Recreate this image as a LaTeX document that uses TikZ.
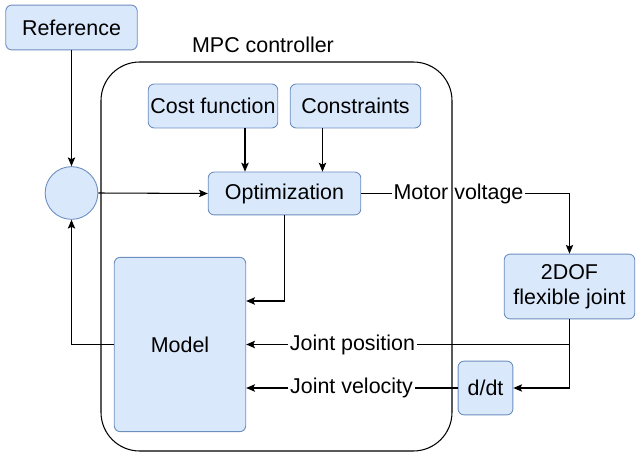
\documentclass[tikz,border=0pt]{standalone}
\usepackage{fontspec}
\setmainfont{Liberation Sans}
\usetikzlibrary{arrows.meta}
\definecolor{boxfill}{HTML}{DAE8FC}
\definecolor{boxline}{HTML}{6C8EBF}
\tikzset{
  block/.style={draw=boxline,fill=boxfill,rounded corners=3.4pt,line width=0.5pt,
    align=center,inner sep=1pt,font=\fontsize{12.2}{14}\selectfont},
  lbl/.style={fill=white,inner sep=0.8pt,font=\fontsize{12.2}{14}\selectfont},
  arr/.style={-{Stealth[length=5pt,width=4.2pt,inset=1pt]},line width=0.6pt},
  wire/.style={line width=0.6pt}
}
\begin{document}
\begin{tikzpicture}[x=2mm,y=-2mm]
        \useasboundingbox(0,0)rectangle(63.6,45.2);

        % blocks
        \node[block,minimum width=74.8pt,minimum height=25.5pt](ref)at(7.15,2.75){Reference};
        \node[block,circle,minimum size=30pt,inner sep=0pt](sum)at(7.15,19.3){};
        \node[block,minimum width=73.7pt,minimum height=25pt](cost)at(21.3,10.6){Cost function};
        \node[block,minimum width=74.3pt,minimum height=25pt](cons)at(35.55,10.6){Constraints};
        \node[block,minimum width=86.8pt,minimum height=24.4pt](opt)at(28.45,19.35){Optimization};
        \node[block,minimum width=74.8pt,minimum height=99.2pt](model)at(18,34.45){Model};
        \node[block,minimum width=74.3pt,minimum height=36.9pt](plant)at(56.95,28.65){2DOF\\flexible joint};
        \node[block,minimum width=31.2pt,minimum height=30.6pt](ddt)at(48.55,38.8){d/dt};

        % signal labels
        \node[lbl](mv)at(45.85,19.35){Motor voltage};
        \node[lbl](jp)at(35.25,34.45){Joint position};
        \node[lbl](jv)at(35.15,38.8){Joint velocity};

        % connectors
        \draw[arr](ref.south)--(sum.north);
        \draw[arr](sum.east)--(opt.west);
        \draw[arr]([xshift=6.4mm]cost.south)--([xshift=6.4mm]cost.south|-opt.north);
        \draw[arr]([xshift=-6.6mm]cons.south)--([xshift=-6.6mm]cons.south|-opt.north);
        \draw[wire](opt.east)--(mv.west);
        \draw[arr](mv.east)-|(plant.north);
        \draw[arr](opt.south)|-([yshift=8.7mm]model.east);
        \draw[arr](plant.south)|-(ddt.east);
        \draw[wire](plant.south|-jp)--(jp.east);
        \draw[arr](jp.west)--(model.east|-jp);
        \draw[wire](ddt.west)--(jv.east);
        \draw[arr](jv.west)--(model.east|-jv);
        \draw[arr](model.west)-|(sum.south);

        % controller frame
        \draw[line width=0.6pt,rounded corners=22pt](10.1,6.2)rectangle(45.2,45.1);
        \node[font=\fontsize{12.2}{14}\selectfont](mpc)at(26.3,4.5){MPC controller};
\end{tikzpicture}
\end{document}
